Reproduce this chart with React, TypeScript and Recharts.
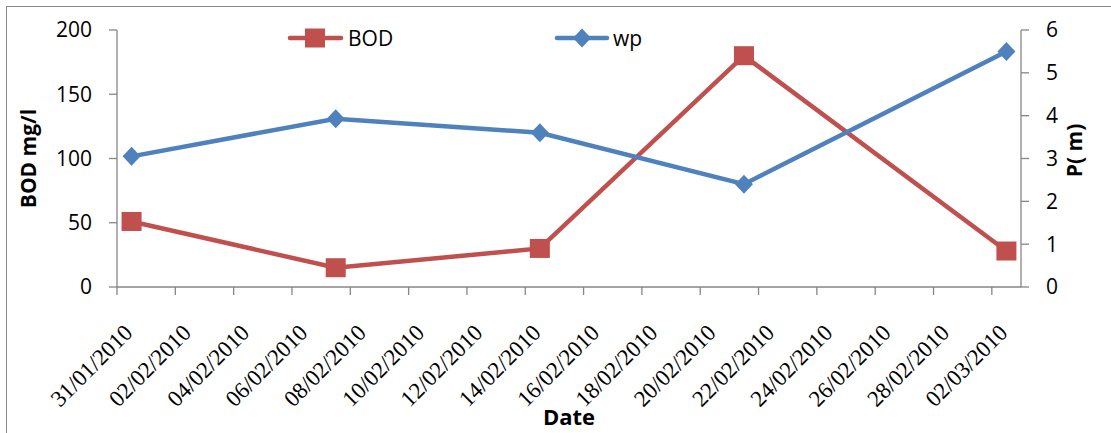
import React from 'react';
import { ComposedChart, Line, XAxis, YAxis, Legend, Label } from 'recharts';

const dates = ['31/01/2010', '07/02/2010', '14/02/2010', '21/02/2010', '02/03/2010'];
const bodValues = [51, 15, 30, 180, 28];
const wpValues = [3.05, 3.93, 3.6, 2.4, 5.5];

const tickLabels = [
  '31/01/2010', '02/02/2010', '04/02/2010', '06/02/2010', '08/02/2010', '10/02/2010',
  '12/02/2010', '14/02/2010', '16/02/2010', '18/02/2010', '20/02/2010', '22/02/2010',
  '24/02/2010', '26/02/2010', '28/02/2010', '02/03/2010',
];
const axisStart = '31/01/2010';
const axisEnd = '03/03/2010';
const leftTicks = [0, 50, 100, 150, 200];
const rightTicks = [0, 1, 2, 3, 4, 5, 6];

const RED = '#C0504D';
const BLUE = '#4F81BD';
const AXIS = '#868686';
const NUM_FONT = '"Open Sans", sans-serif';
const DATE_FONT = '"Liberation Serif", serif';

const parse = (s: string) => {
  const [d, m, y] = s.split('/').map(Number);
  return Date.UTC(y, m - 1, d);
};
const START = parse(axisStart);
const dayOf = (s: string) => Math.round((parse(s) - START) / 86400000);

// Excel date axis places each point in the middle of its day
const data = dates.map((d, i) => ({ x: dayOf(d) + 0.5, BOD: bodValues[i], wp: wpValues[i] }));
const xTicks = tickLabels.map(dayOf);
const labelFor = (v: number) => tickLabels[xTicks.indexOf(v)] ?? '';

const DateTick = (props: any) => {
  const { x, y, payload } = props;
  const px = x + 17;
  const py = y + 37;
  return (
    <text
      x={px}
      y={py}
      transform={`rotate(-45, ${px}, ${py})`}
      textAnchor="end"
      fontFamily={DATE_FONT}
      fontSize={23}
      fill="#000"
    >
      {labelFor(payload.value)}
    </text>
  );
};

const SquareDot = (props: any) => {
  const { cx, cy } = props;
  if (cx == null || cy == null) return null;
  return <rect x={cx - 10} y={cy - 9.5} width={20} height={19} fill={RED} />;
};

const DiamondDot = (props: any) => {
  const { cx, cy } = props;
  if (cx == null || cy == null) return null;
  return (
    <polygon
      points={`${cx},${cy - 9.5} ${cx + 9},${cy} ${cx},${cy + 9.5} ${cx - 9},${cy}`}
      fill={BLUE}
    />
  );
};

const renderLegend = () => (
  <svg width={1111} height={60} style={{ display: 'block' }}>
    <line x1={290} x2={341} y1={38} y2={38} stroke={RED} strokeWidth={4.5} strokeLinecap="round" />
    <rect x={305} y={28.5} width={20} height={19} fill={RED} />
    <text x={348} y={45.5} fontFamily={NUM_FONT} fontSize={21} fill="#000">BOD</text>
    <line x1={557} x2={607} y1={38} y2={38} stroke={BLUE} strokeWidth={4.5} strokeLinecap="round" />
    <polygon points="582,28.5 591,38 582,47.5 573,38" fill={BLUE} />
    <text x={613} y={45.5} fontFamily={NUM_FONT} fontSize={21} fill="#000">wp</text>
  </svg>
);

export default function App() {
  return (
    <div
      style={{
        position: 'absolute',
        left: 0,
        top: 0,
        width: 1111,
        height: 433,
        overflow: 'hidden',
        background: '#fff',
      }}
    >
      <div
        style={{
          position: 'absolute',
          left: 6,
          top: 6,
          width: 1200,
          height: 600,
          borderTop: '1.5px solid #8a8a8a',
          borderLeft: '1.5px solid #8a8a8a',
        }}
      />
      <div style={{ position: 'absolute', left: 0, top: 0 }}>
        <ComposedChart
          width={1111}
          height={433}
          data={data}
          margin={{ top: 30, right: 0, bottom: 0, left: 0 }}
        >
          <XAxis
            dataKey="x"
            type="number"
            domain={[0, dayOf(axisEnd)]}
            ticks={xTicks}
            interval={0}
            height={146}
            tick={<DateTick />}
            tickSize={8}
            tickMargin={2}
            axisLine={{ stroke: AXIS, strokeWidth: 1.3 }}
            tickLine={{ stroke: AXIS, strokeWidth: 1.3 }}
            allowDecimals
          >
            <Label
              value="Date"
              position="insideBottom"
              offset={8}
              style={{ fontFamily: NUM_FONT, fontWeight: 700, fontSize: 22, fill: '#000' }}
            />
          </XAxis>
          <YAxis
            yAxisId="left"
            orientation="left"
            width={117}
            domain={[0, 200]}
            ticks={leftTicks}
            interval={0}
            tickSize={8}
            tickMargin={17}
            tick={{ fontFamily: NUM_FONT, fontSize: 21, fill: '#000' }}
            axisLine={{ stroke: AXIS, strokeWidth: 1.3 }}
            tickLine={{ stroke: AXIS, strokeWidth: 1.3 }}
          >
            <Label
              value="BOD mg/l"
              angle={-90}
              position="insideLeft"
              offset={29}
              style={{ textAnchor: 'middle', fontFamily: NUM_FONT, fontWeight: 700, fontSize: 21, fill: '#000' }}
            />
          </YAxis>
          <YAxis
            yAxisId="right"
            orientation="right"
            width={90}
            domain={[0, 6]}
            ticks={rightTicks}
            interval={0}
            tickSize={8}
            tickMargin={17}
            tick={{ fontFamily: NUM_FONT, fontSize: 21, fill: '#000' }}
            axisLine={{ stroke: AXIS, strokeWidth: 1.3 }}
            tickLine={{ stroke: AXIS, strokeWidth: 1.3 }}
          >
            <Label
              value="P( m)"
              angle={-90}
              position="insideRight"
              offset={36}
              dy={-8}
              style={{ textAnchor: 'middle', fontFamily: NUM_FONT, fontWeight: 700, fontSize: 21, fill: '#000' }}
            />
          </YAxis>
          <Legend
            verticalAlign="middle"
            align="center"
            layout="horizontal"
            content={renderLegend}
            wrapperStyle={{ position: 'absolute', left: 0, top: 0, width: 1111, height: 60 }}
          />
          <Line
            yAxisId="left"
            type="linear"
            dataKey="BOD"
            name="BOD"
            stroke={RED}
            strokeWidth={4.5}
            dot={<SquareDot />}
            activeDot={false}
            isAnimationActive={false}
          />
          <Line
            yAxisId="right"
            type="linear"
            dataKey="wp"
            name="wp"
            stroke={BLUE}
            strokeWidth={4.5}
            dot={<DiamondDot />}
            activeDot={false}
            isAnimationActive={false}
          />
        </ComposedChart>
      </div>
    </div>
  );
}
